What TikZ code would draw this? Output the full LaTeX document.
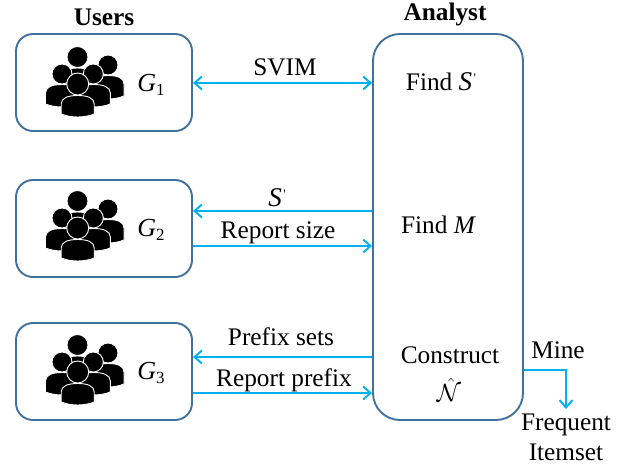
\documentclass[tikz,border=0pt]{standalone}
\usepackage{fontspec}
\setmainfont{Liberation Serif}
\usetikzlibrary{arrows.meta}
\definecolor{boxblue}{HTML}{41719C}
\definecolor{arrowblue}{HTML}{00B0F0}
\newcommand{\personfig}[5]{% cx, head cy, r, half width, bottom y
  \fill[black,draw=white,line width=0.9pt] (#1-#4,#5-3) -- (#1-#4,#2+#3+9)
    .. controls (#1-#4,#2+#3+3) and (#1-#4*0.6,#2+#3+0.5) .. (#1,#2+#3+0.5)
    .. controls (#1+#4*0.6,#2+#3+0.5) and (#1+#4,#2+#3+3) .. (#1+#4,#2+#3+9)
    -- (#1+#4,#5-3) .. controls (#1+#4*0.4,#5+1) and (#1-#4*0.4,#5+1) .. (#1-#4,#5-3) -- cycle;
  \fill[black,draw=white,line width=0.9pt] (#1,#2) circle (#3);
}
\newcommand{\sz}[1]{\fontsize{#1}{#1}\selectfont}
\newcommand{\Sp}{{\sz{27}\itshape S}\kern1.5pt\raisebox{8pt}{\sz{13}\textquotesingle}}
\newcommand{\Gsub}[1]{{\sz{26}\itshape G}\raisebox{-4pt}{\sz{17}#1}}
\tikzset{
  x=1pt,y=-1pt,
  group/.pic={
    \personfig{0.5}{-27}{10.5}{14}{18}
    \personfig{31}{-19}{10}{16}{15}
    \personfig{-15}{-10}{10}{16.5}{23}
    \personfig{16.3}{-10}{10}{17}{23}
    \personfig{0.7}{0}{11}{16.5}{33}
  },
  userbox/.style={draw=boxblue,line width=1.9pt,rounded corners=17pt,minimum width=176pt,minimum height=97pt,inner sep=0pt,fill=white},
  analystbox/.style={draw=boxblue,line width=1.9pt,rounded corners=27pt,minimum width=150pt,minimum height=386pt,inner sep=0pt,fill=white},
  lab/.style={inner sep=0pt,font=\sz{25.3}},
  head/.style={inner sep=0pt,font=\sz{25.3}\bfseries},
  flow/.style={draw=arrowblue,line width=2.1pt,-{Straight Barb[length=7.5pt,width=13pt,line width=1.9pt]}},
  bothflow/.style={flow,{Straight Barb[length=7.5pt,width=13pt,line width=1.9pt]}-{Straight Barb[length=7.5pt,width=13pt,line width=1.9pt]}},
}
\begin{document}
\begin{tikzpicture}[x=1pt,y=-1pt]
\useasboundingbox (0,0) rectangle (633,466);
\node[userbox] (g1) at (104,82.5) {};
\node[userbox] (g2) at (104,228.5) {};
\node[userbox] (g3) at (104,371.5) {};
\node[analystbox] (an) at (448,227) {};
\pic at (77,84) {group};
\pic at (77,228) {group};
\pic at (77,372) {group};
\node[lab] (t1) at (151,85) {\Gsub{1}};
\node[lab] (t2) at (151,230) {\Gsub{2}};
\node[lab] (t3) at (151,373) {\Gsub{3}};
\node[head] (users) at (104,17) {Users};
\node[head] (analyst) at (445,14) {Analyst};
\node[lab] (fs) at (441,82) {Find \Sp};
\node[lab] (fm) at (438,225) {Find {\itshape M}};
\node[lab] (co) at (450,355) {Construct};
\node[lab] (nh) at (449,390) {$\hat{\mathcal N}$};
\coordinate (r1) at (0,83);
\coordinate (r2) at (0,211);
\coordinate (r3) at (0,246);
\coordinate (r4) at (0,357);
\coordinate (r5) at (0,393);
\coordinate (r6) at (0,370);
\draw[bothflow] (g1.east |- r1) -- (an.west |- r1);
\draw[flow] (an.west |- r2) -- (g2.east |- r2);
\draw[flow] (g2.east |- r3) -- (an.west |- r3);
\draw[flow] (an.west |- r4) -- (g3.east |- r4);
\draw[flow] (g3.east |- r5) -- (an.west |- r5);
\node[lab] (svim) at (285,67) {SVIM};
\node[lab] (sp) at (277,198) {\Sp};
\node[lab] (rs) at (278,233) {Report size};
\node[lab] (ps) at (281,337) {Prefix sets};
\node[lab] (rp) at (284,380) {Report prefix};
\node[lab] (mine) at (558,350) {Mine};
\node[lab,anchor=north] (fi) at (566,414) {Frequent};
\node[lab] (it) at (566,452) {Itemset};
\draw[flow,shorten >=5pt] (an.east |- r6) -| (fi.north);
\end{tikzpicture}
\end{document}
